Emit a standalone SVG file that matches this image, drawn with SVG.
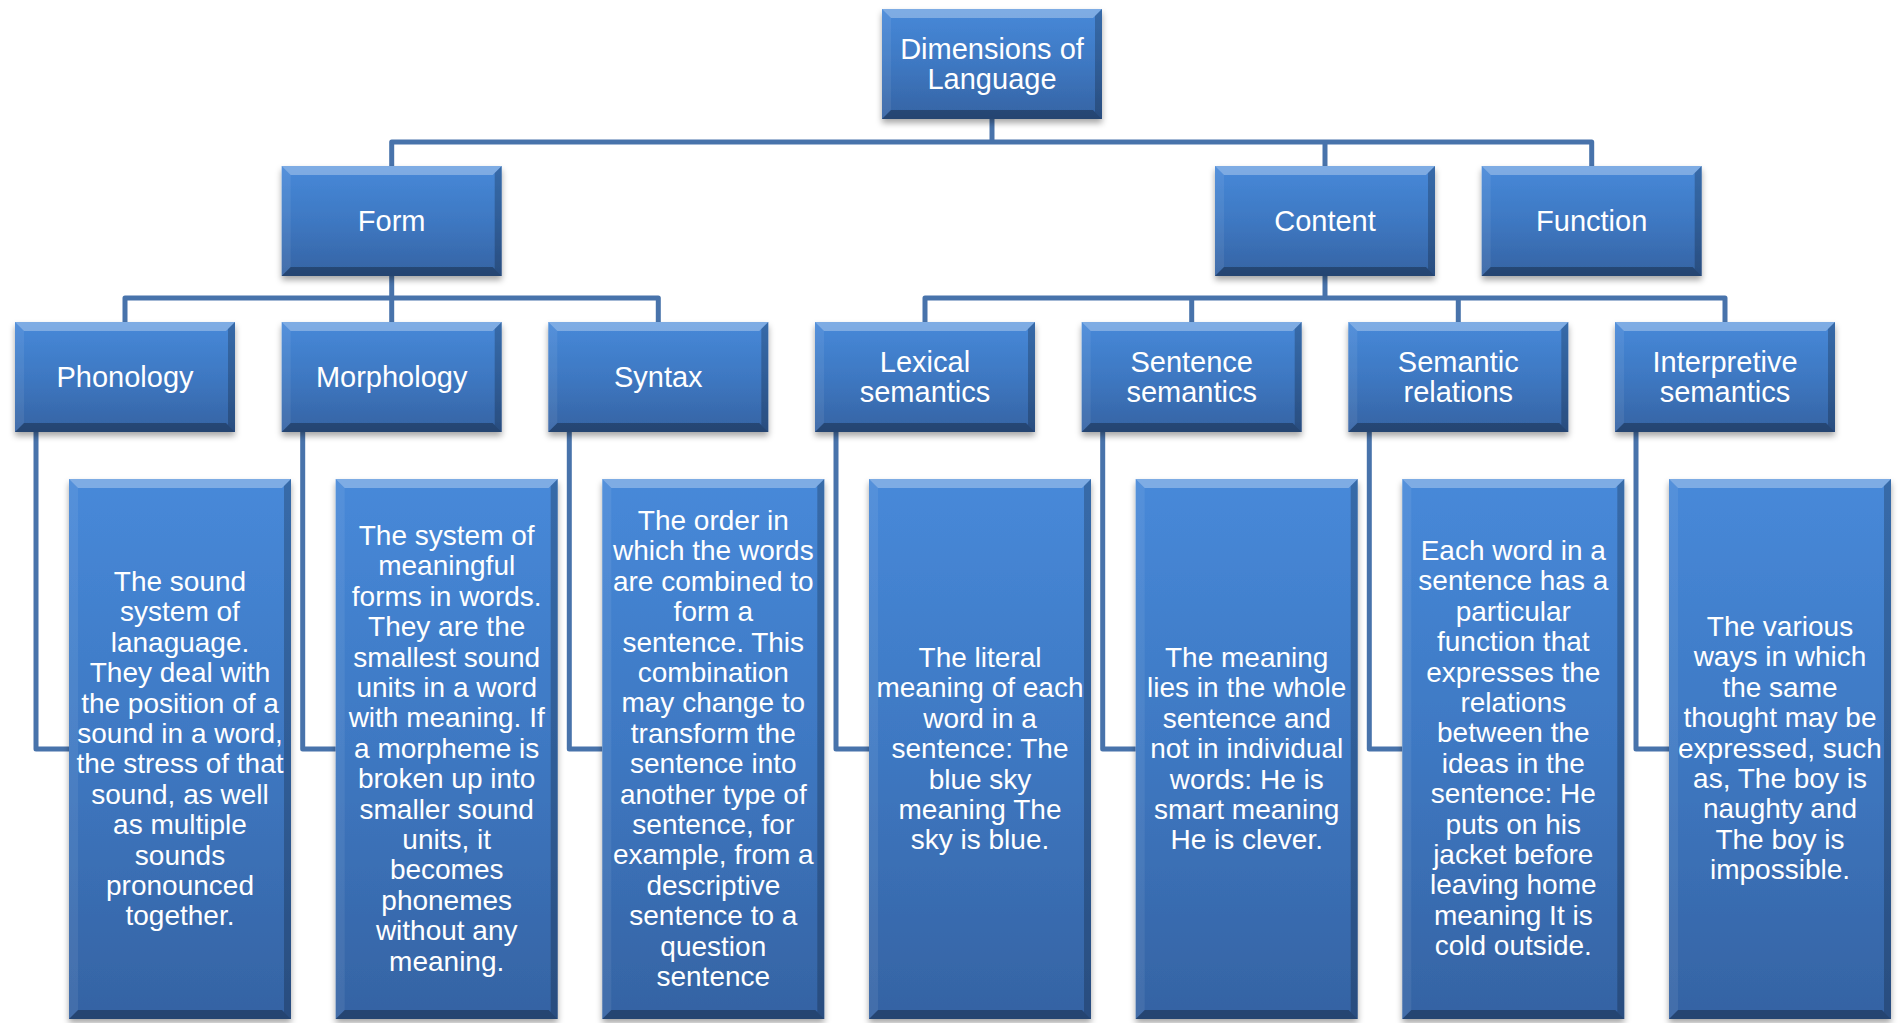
<svg xmlns="http://www.w3.org/2000/svg" xmlns:xlink="http://www.w3.org/1999/xlink" width="1901" height="1023" viewBox="0 0 1901 1023">
  <style>
    .lbl { font-family: "Liberation Sans", Arial, sans-serif; font-size: 29px; fill: #ffffff; text-anchor: middle; }
    .desc { font-family: "Liberation Sans", Arial, sans-serif; font-size: 28px; fill: #ffffff; text-anchor: middle; }
    .conn { fill: none; stroke: #4873ab; stroke-width: 5; stroke-linejoin: round; stroke-linecap: butt; }
  </style>
  <defs>
    <linearGradient id="boxFill" x1="0" y1="0" x2="0" y2="1">
      <stop offset="0" stop-color="#4789d9"/>
      <stop offset="0.5" stop-color="#3e78c2"/>
      <stop offset="1" stop-color="#3563a3"/>
    </linearGradient>
    <filter id="shadow" x="-10%" y="-10%" width="120%" height="130%">
      <feDropShadow dx="0" dy="4" stdDeviation="3" flood-color="#000000" flood-opacity="0.35"/>
    </filter>
    <!-- bevelled title box, 220 x 110 -->
    <g id="tbox">
      <rect x="0" y="0" width="220" height="110" fill="url(#boxFill)" filter="url(#shadow)"/>
      <polygon points="0,0 220,0 211,9 9,9" fill="#ffffff" fill-opacity="0.3"/>
      <polygon points="0,0 9,9 9,101 0,110" fill="#ffffff" fill-opacity="0.07"/>
      <polygon points="220,0 220,110 213,103 213,7" fill="#000000" fill-opacity="0.22"/>
      <polygon points="0,110 220,110 211,101 9,101" fill="#000000" fill-opacity="0.3"/>
    </g>
    <!-- bevelled description box, 222 x 540 -->
    <g id="dbox">
      <rect x="0" y="0" width="222" height="540" fill="url(#boxFill)" filter="url(#shadow)"/>
      <polygon points="0,0 222,0 213,9 9,9" fill="#ffffff" fill-opacity="0.3"/>
      <polygon points="0,0 9,9 9,531 0,540" fill="#ffffff" fill-opacity="0.07"/>
      <polygon points="222,0 222,540 215,533 215,7" fill="#000000" fill-opacity="0.22"/>
      <polygon points="0,540 222,540 213,531 9,531" fill="#000000" fill-opacity="0.3"/>
    </g>
  </defs>

  <rect x="0" y="0" width="1901" height="1023" fill="#ffffff"/>

  <!-- connectors -->
  <g id="connectors">
    <path class="conn" d="M992,119 V142"/>
    <path class="conn" d="M391.7,166 V142 H1591.7 V166"/>
    <path class="conn" d="M1325,142 V166"/>
    <path class="conn" d="M391.7,276 V298"/>
    <path class="conn" d="M125,322 V298 H658.3 V322"/>
    <path class="conn" d="M391.7,298 V322"/>
    <path class="conn" d="M1325,276 V298"/>
    <path class="conn" d="M925,322 V298 H1725 V322"/>
    <path class="conn" d="M1191.7,298 V322 M1458.3,298 V322"/>
    <path class="conn" d="M36,432 V749 H69"/>
    <path class="conn" d="M302.7,432 V749 H335.7"/>
    <path class="conn" d="M569.3,432 V749 H602.3"/>
    <path class="conn" d="M836,432 V749 H869"/>
    <path class="conn" d="M1102.7,432 V749 H1135.7"/>
    <path class="conn" d="M1369.3,432 V749 H1402.3"/>
    <path class="conn" d="M1636,432 V749 H1669"/>
  </g>

  <!-- root -->
  <g id="node-dimensions">
    <use href="#tbox" x="882" y="9"/>
    <text class="lbl" x="992" y="59">Dimensions of<tspan x="992" dy="30">Language</tspan></text>
  </g>

  <!-- second level -->
  <g id="node-form">
    <use href="#tbox" x="281.7" y="166"/>
    <text class="lbl" x="391.7" y="231">Form</text>
  </g>
  <g id="node-content">
    <use href="#tbox" x="1215" y="166"/>
    <text class="lbl" x="1325" y="231">Content</text>
  </g>
  <g id="node-function">
    <use href="#tbox" x="1481.7" y="166"/>
    <text class="lbl" x="1591.7" y="231">Function</text>
  </g>

  <!-- third level -->
  <g id="node-phonology">
    <use href="#tbox" x="15" y="322"/>
    <text class="lbl" x="125" y="387">Phonology</text>
  </g>
  <g id="node-morphology">
    <use href="#tbox" x="281.7" y="322"/>
    <text class="lbl" x="391.7" y="387">Morphology</text>
  </g>
  <g id="node-syntax">
    <use href="#tbox" x="548.3" y="322"/>
    <text class="lbl" x="658.3" y="387">Syntax</text>
  </g>
  <g id="node-lexical">
    <use href="#tbox" x="815" y="322"/>
    <text class="lbl" x="925" y="372">Lexical<tspan x="925" dy="30">semantics</tspan></text>
  </g>
  <g id="node-sentence">
    <use href="#tbox" x="1081.7" y="322"/>
    <text class="lbl" x="1191.7" y="372">Sentence<tspan x="1191.7" dy="30">semantics</tspan></text>
  </g>
  <g id="node-relations">
    <use href="#tbox" x="1348.3" y="322"/>
    <text class="lbl" x="1458.3" y="372">Semantic<tspan x="1458.3" dy="30">relations</tspan></text>
  </g>
  <g id="node-interpretive">
    <use href="#tbox" x="1615" y="322"/>
    <text class="lbl" x="1725" y="372">Interpretive<tspan x="1725" dy="30">semantics</tspan></text>
  </g>

  <!-- descriptions -->
  <g id="desc-phonology">
    <use href="#dbox" x="69" y="479"/>
    <text class="desc" x="180" y="591">The sound<tspan x="180" dy="30.4">system of</tspan><tspan x="180" dy="30.4">lanaguage.</tspan><tspan x="180" dy="30.4">They deal with</tspan><tspan x="180" dy="30.4">the position of a</tspan><tspan x="180" dy="30.4">sound in a word,</tspan><tspan x="180" dy="30.4">the stress of that</tspan><tspan x="180" dy="30.4">sound, as well</tspan><tspan x="180" dy="30.4">as multiple</tspan><tspan x="180" dy="30.4">sounds</tspan><tspan x="180" dy="30.4">pronounced</tspan><tspan x="180" dy="30.4">together.</tspan></text>
  </g>
  <g id="desc-morphology">
    <use href="#dbox" x="335.7" y="479"/>
    <text class="desc" x="446.7" y="545">The system of<tspan x="446.7" dy="30.4">meaningful</tspan><tspan x="446.7" dy="30.4">forms in words.</tspan><tspan x="446.7" dy="30.4">They are the</tspan><tspan x="446.7" dy="30.4">smallest sound</tspan><tspan x="446.7" dy="30.4">units in a word</tspan><tspan x="446.7" dy="30.4">with meaning. If</tspan><tspan x="446.7" dy="30.4">a morpheme is</tspan><tspan x="446.7" dy="30.4">broken up into</tspan><tspan x="446.7" dy="30.4">smaller sound</tspan><tspan x="446.7" dy="30.4">units, it</tspan><tspan x="446.7" dy="30.4">becomes</tspan><tspan x="446.7" dy="30.4">phonemes</tspan><tspan x="446.7" dy="30.4">without any</tspan><tspan x="446.7" dy="30.4">meaning.</tspan></text>
  </g>
  <g id="desc-syntax">
    <use href="#dbox" x="602.3" y="479"/>
    <text class="desc" x="713.3" y="530">The order in<tspan x="713.3" dy="30.4">which the words</tspan><tspan x="713.3" dy="30.4">are combined to</tspan><tspan x="713.3" dy="30.4">form a</tspan><tspan x="713.3" dy="30.4">sentence. This</tspan><tspan x="713.3" dy="30.4">combination</tspan><tspan x="713.3" dy="30.4">may change to</tspan><tspan x="713.3" dy="30.4">transform the</tspan><tspan x="713.3" dy="30.4">sentence into</tspan><tspan x="713.3" dy="30.4">another type of</tspan><tspan x="713.3" dy="30.4">sentence, for</tspan><tspan x="713.3" dy="30.4">example, from a</tspan><tspan x="713.3" dy="30.4">descriptive</tspan><tspan x="713.3" dy="30.4">sentence to a</tspan><tspan x="713.3" dy="30.4">question</tspan><tspan x="713.3" dy="30.4">sentence</tspan></text>
  </g>
  <g id="desc-lexical">
    <use href="#dbox" x="869" y="479"/>
    <text class="desc" x="980" y="667">The literal<tspan x="980" dy="30.4">meaning of each</tspan><tspan x="980" dy="30.4">word in a</tspan><tspan x="980" dy="30.4">sentence: The</tspan><tspan x="980" dy="30.4">blue sky</tspan><tspan x="980" dy="30.4">meaning The</tspan><tspan x="980" dy="30.4">sky is blue.</tspan></text>
  </g>
  <g id="desc-sentence">
    <use href="#dbox" x="1135.7" y="479"/>
    <text class="desc" x="1246.7" y="667">The meaning<tspan x="1246.7" dy="30.4">lies in the whole</tspan><tspan x="1246.7" dy="30.4">sentence and</tspan><tspan x="1246.7" dy="30.4">not in individual</tspan><tspan x="1246.7" dy="30.4">words: He is</tspan><tspan x="1246.7" dy="30.4">smart meaning</tspan><tspan x="1246.7" dy="30.4">He is clever.</tspan></text>
  </g>
  <g id="desc-relations">
    <use href="#dbox" x="1402.3" y="479"/>
    <text class="desc" x="1513.3" y="560">Each word in a<tspan x="1513.3" dy="30.4">sentence has a</tspan><tspan x="1513.3" dy="30.4">particular</tspan><tspan x="1513.3" dy="30.4">function that</tspan><tspan x="1513.3" dy="30.4">expresses the</tspan><tspan x="1513.3" dy="30.4">relations</tspan><tspan x="1513.3" dy="30.4">between the</tspan><tspan x="1513.3" dy="30.4">ideas in the</tspan><tspan x="1513.3" dy="30.4">sentence: He</tspan><tspan x="1513.3" dy="30.4">puts on his</tspan><tspan x="1513.3" dy="30.4">jacket before</tspan><tspan x="1513.3" dy="30.4">leaving home</tspan><tspan x="1513.3" dy="30.4">meaning It is</tspan><tspan x="1513.3" dy="30.4">cold outside.</tspan></text>
  </g>
  <g id="desc-interpretive">
    <use href="#dbox" x="1669" y="479"/>
    <text class="desc" x="1780" y="636">The various<tspan x="1780" dy="30.4">ways in which</tspan><tspan x="1780" dy="30.4">the same</tspan><tspan x="1780" dy="30.4">thought may be</tspan><tspan x="1780" dy="30.4">expressed, such</tspan><tspan x="1780" dy="30.4">as, The boy is</tspan><tspan x="1780" dy="30.4">naughty and</tspan><tspan x="1780" dy="30.4">The boy is</tspan><tspan x="1780" dy="30.4">impossible.</tspan></text>
  </g>
</svg>
